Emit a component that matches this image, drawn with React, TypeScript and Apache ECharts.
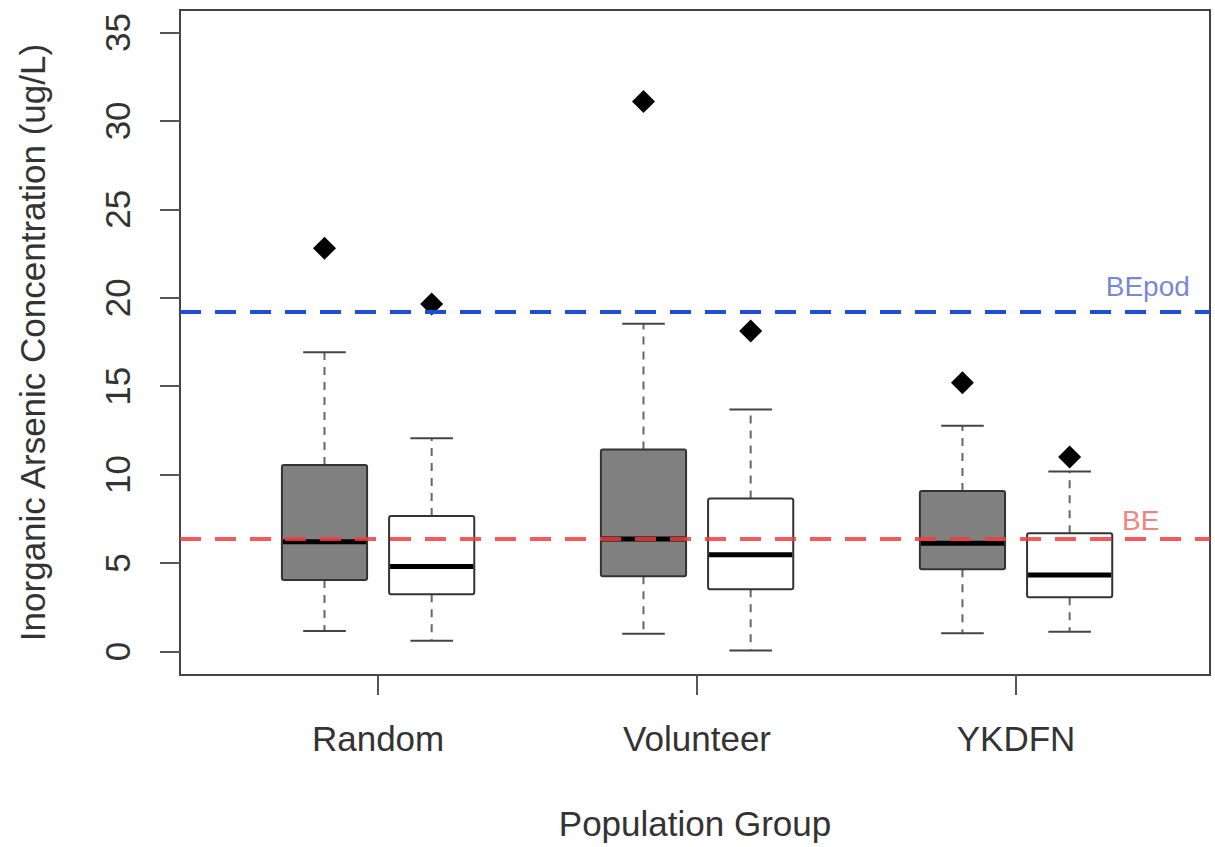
import React, { useEffect, useRef } from "react";
import * as echarts from "echarts";

// ---- data ----
const groups = ["Random", "Volunteer", "YKDFN"];
// [lower whisker, Q1, median, Q3, upper whisker]
const grayStats = [
  [1.16, 4.04, 6.21, 10.55, 16.92],
  [1.0, 4.25, 6.36, 11.42, 18.53],
  [1.03, 4.65, 6.12, 9.07, 12.77],
];
const whiteStats = [
  [0.61, 3.23, 4.8, 7.66, 12.05],
  [0.06, 3.52, 5.47, 8.65, 13.68],
  [1.12, 3.06, 4.33, 6.68, 10.17],
];
const grayOutliers = [22.8, 31.1, 15.2];
const whiteOutliers = [19.65, 18.12, 11.0];
const yTicks = [0, 5, 10, 15, 20, 25, 30, 35];
const BE = 6.36;
const BEPOD = 19.2;
const refLabels = [
  { name: "BEpod", x: 3.413, y: 20.61 },
  { name: "BE", x: 3.391, y: 7.38 },
];

// layout constants
const OFFSET = 0.168;
const BOX_W = 0.267;
const FONT = "'Liberation Sans', Arial, Helvetica, sans-serif";
const TXT = "#333";

export default function App() {
  const ref = useRef<HTMLDivElement>(null);
  useEffect(() => {
    if (!ref.current) return;
    const chart = echarts.init(ref.current, null, { renderer: "svg" });

    const boxData: any[] = [];
    groups.forEach((_, i) => {
      boxData.push([i + 1 - OFFSET, ...grayStats[i], 1]);
      boxData.push([i + 1 + OFFSET, ...whiteStats[i], 0]);
    });
    const outData: any[] = [];
    groups.forEach((_, i) => {
      outData.push([i + 1 - OFFSET, grayOutliers[i]]);
      outData.push([i + 1 + OFFSET, whiteOutliers[i]]);
    });

    const renderItem = (params: any, api: any) => {
      const x = api.value(0);
      const low = api.coord([x, api.value(1)]);
      const q1 = api.coord([x, api.value(2)]);
      const med = api.coord([x, api.value(3)]);
      const q3 = api.coord([x, api.value(4)]);
      const high = api.coord([x, api.value(5)]);
      const isGray = api.value(6) === 1;
      const bw = api.size([BOX_W, 0])[0];
      const cx = low[0];
      const capHalf = bw / 4;
      const whiskerStyle = { stroke: "#666", lineWidth: 2, lineDash: [8, 7] };
      const capStyle = { stroke: "#444", lineWidth: 2 };
      return {
        type: "group",
        children: [
          { type: "line", shape: { x1: cx, y1: q3[1], x2: cx, y2: high[1] }, style: whiskerStyle },
          { type: "line", shape: { x1: cx, y1: q1[1], x2: cx, y2: low[1] }, style: whiskerStyle },
          { type: "line", shape: { x1: cx - capHalf, y1: high[1], x2: cx + capHalf, y2: high[1] }, style: capStyle },
          { type: "line", shape: { x1: cx - capHalf, y1: low[1], x2: cx + capHalf, y2: low[1] }, style: capStyle },
          {
            type: "rect",
            shape: { x: cx - bw / 2, y: q3[1], width: bw, height: q1[1] - q3[1], r: 2 },
            style: { fill: isGray ? "#808080" : "#ffffff", stroke: "#333", lineWidth: 2 },
          },
          {
            type: "line",
            shape: { x1: cx - bw / 2 + 1, y1: med[1], x2: cx + bw / 2 - 1, y2: med[1] },
            style: { stroke: "#000", lineWidth: 5 },
          },
        ],
      };
    };

    chart.setOption({
      animation: false,
      backgroundColor: "#fff",
      grid: {
        left: 180,
        top: 10,
        right: 5,
        bottom: 172,
        show: true,
        borderColor: "#444",
        borderWidth: 2,
        backgroundColor: "transparent",
      },
      xAxis: {
        type: "value",
        min: 0.379,
        max: 3.608,
        axisLine: { show: false, onZero: false },
        splitLine: { show: false },
        axisTick: {
          show: true,
          length: 20,
          customValues: [1, 2, 3],
          lineStyle: { color: "#555", width: 2 },
        },
        axisLabel: {
          customValues: [1, 2, 3],
          formatter: (v: number) => groups[Math.round(v) - 1] ?? "",
          fontSize: 35,
          fontFamily: FONT,
          color: TXT,
          margin: 46,
        },
        name: "Population Group",
        nameLocation: "middle",
        nameGap: 131,
        nameTextStyle: { fontSize: 35, fontFamily: FONT, color: TXT },
      },
      yAxis: {
        type: "value",
        min: -1.33,
        max: 36.27,
        axisLine: { show: false, onZero: false },
        splitLine: { show: false },
        axisTick: {
          show: true,
          length: 20,
          customValues: yTicks,
          lineStyle: { color: "#555", width: 2 },
        },
        axisLabel: {
          customValues: yTicks,
          rotate: 90,
          fontSize: 35,
          fontFamily: FONT,
          color: TXT,
          margin: 45,
        },
        name: "Inorganic Arsenic Concentration (ug/L)",
        nameLocation: "middle",
        nameGap: 130,
        nameTextStyle: { fontSize: 35, fontFamily: FONT, color: TXT },
      },
      series: [
        {
          type: "custom",
          name: "boxes",
          renderItem,
          data: boxData,
          encode: { x: 0, y: [1, 2, 3, 4, 5] },
          z: 2,
          silent: true,
        },
        {
          type: "scatter",
          name: "outliers",
          data: outData,
          symbol: "diamond",
          symbolSize: 23,
          itemStyle: { color: "#000", opacity: 1 },
          z: 3,
          silent: true,
        },
        {
          type: "line",
          name: "ref",
          data: [],
          z: 4,
          silent: true,
          markLine: {
            silent: true,
            symbol: "none",
            label: { show: false },
            data: [
              { yAxis: BEPOD, lineStyle: { color: "#1f4fd0", width: 4, type: [21, 14] } },
              { yAxis: BE, lineStyle: { color: "rgba(245,60,60,0.85)", width: 4, type: [21, 14] } },
            ],
          },
        },
        {
          type: "scatter",
          name: "refLabels",
          symbolSize: 0,
          z: 5,
          silent: true,
          data: refLabels.map((d) => ({
            value: [d.x, d.y],
            label: {
              show: true,
              position: "inside",
              formatter: d.name,
              fontSize: 28,
              fontFamily: FONT,
              color: d.name === "BE" ? "#f06060" : "#5566cc",
            },
          })),
        },
      ],
    });
    return () => chart.dispose();
  }, []);
  return (
    <div
      ref={ref}
      style={{ position: "fixed", left: 0, top: 0, width: 1215, height: 847, background: "#fff" }}
    />
  );
}
